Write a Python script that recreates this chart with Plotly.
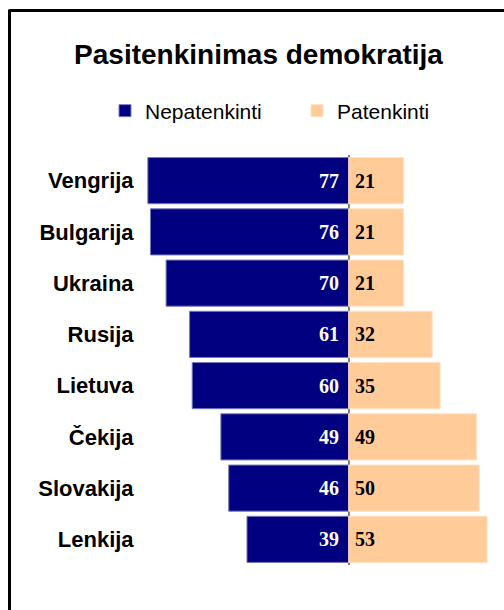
import plotly.graph_objects as go

countries = ["Vengrija", "Bulgarija", "Ukraina", "Rusija", "Lietuva", "Čekija", "Slovakija", "Lenkija"]
nepatenkinti = [77, 76, 70, 61, 60, 49, 46, 39]
patenkinti = [21, 21, 21, 32, 35, 49, 50, 53]

title_text = "Pasitenkinimas demokratija"
series_names = ["Nepatenkinti", "Patenkinti"]

NAVY = "#000080"
PEACH = "#FFCC99"

fig = go.Figure()
fig.add_trace(go.Bar(
    y=countries, x=[-v for v in nepatenkinti], orientation="h",
    name=series_names[0], marker=dict(color=NAVY, line=dict(color="#7a7ab8", width=1)),
    width=0.9, hoverinfo="skip", legend="legend",
))
fig.add_trace(go.Bar(
    y=countries, x=patenkinti, orientation="h",
    name=series_names[1], marker=dict(color=PEACH, line=dict(color="#ffe0c0", width=1)),
    width=0.9, hoverinfo="skip", legend="legend2",
))

annotations = []
for c, v in zip(countries, nepatenkinti):
    annotations.append(dict(x=0, y=c, xref="x", yref="y", text="<b>" + str(v) + "</b>", showarrow=False,
                            xanchor="right", xshift=-8,
                            font=dict(family="Liberation Serif", size=20, color="white")))
for c, v in zip(countries, patenkinti):
    annotations.append(dict(x=0, y=c, xref="x", yref="y", text="<b>" + str(v) + "</b>", showarrow=False,
                            xanchor="left", xshift=4,
                            font=dict(family="Liberation Serif", size=20, color="black")))

legend_common = dict(orientation="h", xref="container", yref="container",
                     xanchor="left", y=1 - 111 / 610, yanchor="middle",
                     font=dict(family="Liberation Sans", size=21, color="black"),
                     bgcolor="rgba(0,0,0,0)")

fig.update_layout(
    width=504, height=610,
    margin=dict(l=140, r=0, t=155, b=45),
    paper_bgcolor="white", plot_bgcolor="white",
    barmode="relative", bargap=0.1,
    showlegend=True,
    title=dict(text="<b>" + title_text + "</b>", x=258.5 / 504, xanchor="center", xref="container",
               y=1 - 54 / 610, yanchor="middle", yref="container",
               font=dict(family="Liberation Sans", size=28, color="black")),
    legend=dict(x=105 / 504, **legend_common),
    legend2=dict(x=297 / 504, **legend_common),
    xaxis=dict(range=[-80, 59.5], showgrid=False, showticklabels=False, ticks="",
               zeroline=True, zerolinecolor="#808080", zerolinewidth=1.5, fixedrange=True),
    yaxis=dict(autorange="reversed", showgrid=False, ticks="outside", ticklen=0, ticklabelstandoff=1,
               tickfont=dict(family="Liberation Sans", size=22, color="black"),
               showline=False, zeroline=False, fixedrange=True),
    annotations=annotations,
    font=dict(family="Liberation Sans"),
)
fig.update_yaxes(tickvals=countries, ticktext=["<b>" + c + "</b>" for c in countries])

# outer frame (left and top edges)
fig.add_shape(type="line", xref="paper", yref="paper",
              x0=(9.5 - 140) / 364, x1=(9.5 - 140) / 364,
              y0=1 + (155 - 9.5) / 410, y1=(565 - 615) / 410,
              line=dict(color="black", width=3))
fig.add_shape(type="line", xref="paper", yref="paper",
              x0=(9.5 - 140) / 364, x1=(510 - 140) / 364,
              y0=1 + (155 - 10.5) / 410, y1=1 + (155 - 10.5) / 410,
              line=dict(color="black", width=3))

fig.write_html("out.html", config={"displayModeBar": False},
               post_script="document.body.style.margin='0';document.body.style.padding='0';")
